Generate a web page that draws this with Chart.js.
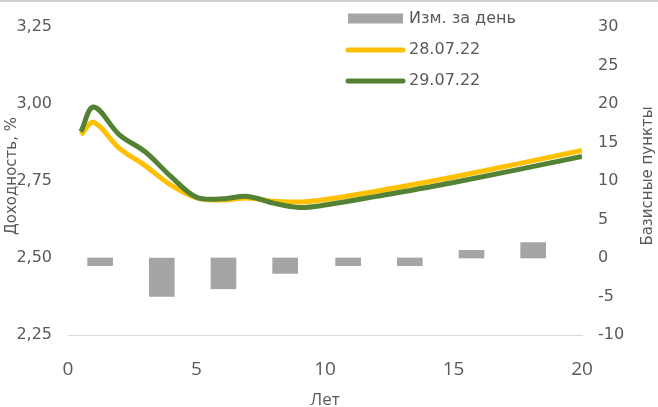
<!DOCTYPE html>
<html>
<head>
<meta charset="utf-8">
<script src="https://cdn.jsdelivr.net/npm/chart.js@4.4.1/dist/chart.umd.min.js"></script>
<style>
  html, body { margin: 0; padding: 0; background: #fff; }
  #wrap { width: 658px; height: 407px; position: relative; }
</style>
</head>
<body>
<div id="wrap"><canvas id="myChart"></canvas></div>
<script>
// сроки (лет) и доходности, %
const years = [0.5, 1, 2, 3, 4, 5, 6, 7, 8, 9, 10, 12, 15, 20];
const yield2807 = [2.90, 2.94, 2.856, 2.80, 2.737, 2.695, 2.688, 2.695, 2.684, 2.682, 2.69, 2.717, 2.763, 2.849];
const yield2907 = [2.91, 2.99, 2.90, 2.845, 2.765, 2.697, 2.692, 2.70, 2.678, 2.664, 2.672, 2.70, 2.745, 2.830];

// изменение за день, б.п.
const barYears = [1.25, 3.65, 6.05, 8.45, 10.9, 13.3, 15.7, 18.1];
const barBp = [-1, -5, -4, -2, -1, -1, 1, 2];

const xTicks = [0, 5, 10, 15, 20];
const labelColor = '#595959';

function pairs(xs, ys) {
    return xs.map((x, i) => ({x: x, y: ys[i]}));
}

// подписи осей и легенда рисуем сами
const decorPlugin = {
    id: 'decor',
    afterDraw(chart) {
        const ctx = chart.ctx;
        const area = chart.chartArea;
        const midY = (area.top + area.bottom) / 2 - 5;
        ctx.save();
        // верхняя рамка
        ctx.strokeStyle = '#d0d0d0';
        ctx.lineWidth = 2;
        ctx.beginPath();
        ctx.moveTo(0, 1);
        ctx.lineTo(chart.width, 1);
        ctx.stroke();

        ctx.fillStyle = labelColor;
        ctx.font = '15px "DejaVu Sans"';
        ctx.textAlign = 'center';
        ctx.textBaseline = 'middle';
        ctx.translate(12, midY);
        ctx.rotate(-Math.PI / 2);
        ctx.fillText('Доходность, %', 0, 0);
        ctx.restore();

        ctx.save();
        ctx.fillStyle = labelColor;
        ctx.font = '15px "DejaVu Sans"';
        ctx.textAlign = 'center';
        ctx.textBaseline = 'middle';
        ctx.translate(648, midY);
        ctx.rotate(-Math.PI / 2);
        ctx.fillText('Базисные пункты', 0, 0);
        ctx.restore();

        // легенда
        const ds = chart.data.datasets;
        const rows = [
            {d: ds[0], y: 18.5, box: true},
            {d: ds[1], y: 50},
            {d: ds[2], y: 81}
        ];
        ctx.save();
        ctx.font = '16px "DejaVu Sans"';
        ctx.textBaseline = 'middle';
        ctx.textAlign = 'left';
        rows.forEach(r => {
            if (r.box) {
                ctx.fillStyle = r.d.backgroundColor;
                ctx.fillRect(348, r.y - 5, 55, 10);
            } else {
                ctx.strokeStyle = r.d.borderColor;
                ctx.lineWidth = 5;
                ctx.lineCap = 'round';
                ctx.beginPath();
                ctx.moveTo(348, r.y);
                ctx.lineTo(403, r.y);
                ctx.stroke();
            }
            ctx.fillStyle = labelColor;
            ctx.fillText(r.d.label, 409, r.y);
        });
        ctx.restore();
    }
};

const ctx = document.getElementById('myChart').getContext('2d');
const myChart = new Chart(ctx, {
    type: 'line',
    data: {
        datasets: [{
            type: 'bar',
            label: 'Изм. за день',
            data: pairs(barYears, barBp),
            backgroundColor: '#a5a5a5',
            borderWidth: 0,
            barThickness: 25,
            yAxisID: 'y2',
            order: 3
        },
        {
            label: '28.07.22',
            data: pairs(years, yield2807),
            borderColor: '#ffc000',
            backgroundColor: '#ffc000',
            borderWidth: 5,
            pointRadius: 0,
            tension: 0.35,
            yAxisID: 'y',
            order: 2
        },
        {
            label: '29.07.22',
            data: pairs(years, yield2907),
            borderColor: '#548235',
            backgroundColor: '#548235',
            borderWidth: 5,
            pointRadius: 0,
            tension: 0.35,
            yAxisID: 'y',
            order: 1
        }]
    },
    options: {
        responsive: true,
        maintainAspectRatio: false,
        animation: false,
        layout: { padding: { top: 27, left: 0, right: 0, bottom: 0 } },
        plugins: {
            legend: { display: false },
            tooltip: { enabled: false }
        },
        scales: {
            x: {
                type: 'linear',
                min: 0,
                max: 20,
                offset: false,
                afterBuildTicks: s => { s.ticks = xTicks.map(v => ({value: v})); },
                afterFit: s => { s.height = 72; },
                grid: { display: false, drawTicks: false, tickLength: 0 },
                border: { display: true, color: '#d9d9d9', width: 1 },
                ticks: {
                    padding: 23,
                    color: labelColor,
                    font: { family: 'Open Sans', size: 19 },
                    maxRotation: 0
                },
                title: {
                    display: true,
                    text: 'Лет',
                    color: labelColor,
                    font: { family: 'Open Sans', size: 17, lineHeight: 0.75 },
                    padding: { top: 0, bottom: 0 }
                }
            },
            y: {
                position: 'left',
                min: 2.25,
                max: 3.25,
                afterFit: s => { s.width = 68; },
                grid: { display: false, drawTicks: false, tickLength: 0 },
                border: { display: false },
                ticks: {
                    stepSize: 0.25,
                    padding: 16,
                    color: labelColor,
                    font: { family: 'DejaVu Sans', size: 16 },
                    callback: v => v.toFixed(2).replace('.', ',')
                }
            },
            y2: {
                position: 'right',
                min: -10,
                max: 30,
                afterFit: s => { s.width = 76; },
                grid: { display: false, drawTicks: false, tickLength: 0 },
                border: { display: false },
                ticks: {
                    stepSize: 5,
                    padding: 16,
                    color: labelColor,
                    font: { family: 'DejaVu Sans', size: 16 }
                }
            }
        }
    },
    plugins: [decorPlugin]
});
</script>
</body>
</html>
